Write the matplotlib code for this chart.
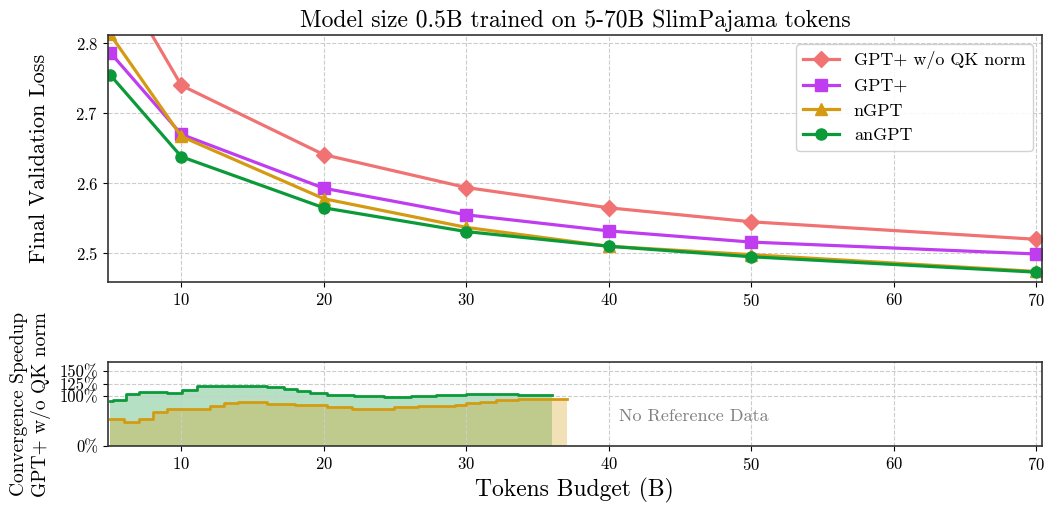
import matplotlib
matplotlib.use("Agg")
import matplotlib.pyplot as plt

plt.rcParams['font.family'] = 'serif'
plt.rcParams['font.serif'] = ['cmr10', 'DejaVu Serif']
plt.rcParams['mathtext.fontset'] = 'cm'
plt.rcParams['axes.formatter.use_mathtext'] = True
plt.rcParams['axes.unicode_minus'] = False

# final validation loss per token budget (B)
budgets = [5, 10, 20, 30, 40, 50, 70]
loss_noqk = [2.914, 2.740, 2.641, 2.594, 2.565, 2.545, 2.520]
loss_gptp = [2.787, 2.670, 2.593, 2.555, 2.532, 2.516, 2.499]
loss_ngpt = [2.813, 2.667, 2.578, 2.537, 2.510, 2.498, 2.474]
loss_angpt = [2.755, 2.638, 2.565, 2.531, 2.510, 2.495, 2.473]

# convergence speedup vs GPT+ w/o QK norm (%), step curves
sp_angpt_x = [5, 5.2, 6.1, 7, 9, 10.05, 11.1, 12, 14.1, 16, 17.2, 18.1, 19.05, 20.2,
              22.1, 24.2, 26.1, 27.9, 30, 33.6, 36]
sp_angpt = [90, 93, 105, 109, 106, 113, 120, 121, 120, 118, 114, 110, 107, 103,
            101, 99, 101, 103, 104, 102, 102]
sp_ngpt_x = [5, 6, 7, 8, 9, 10, 12, 13, 14, 16, 18, 20.2, 22, 24.9, 26.6, 29.2,
             30, 31, 32.1, 33.6, 37.1]
sp_ngpt = [55, 48, 55, 68, 74, 75, 81, 86, 88, 84, 82, 79, 75, 78, 80, 82,
           86, 89, 92, 95, 95]

c_noqk = '#f07272'
c_gptp = '#c03cf0'
c_ngpt = '#d49b12'
c_angpt = '#0a9a3a'

fig = plt.figure(figsize=(10.49, 5.08), dpi=100)
ax = fig.add_axes([0.103, 0.445, 0.890, 0.486])
ax2 = fig.add_axes([0.103, 0.122, 0.890, 0.165])

ax.plot(budgets, loss_noqk, color=c_noqk, marker='D', ms=8, lw=2.3, label='GPT+ w/o QK norm')
ax.plot(budgets, loss_gptp, color=c_gptp, marker='s', ms=8, lw=2.3, label='GPT+')
ax.plot(budgets, loss_ngpt, color=c_ngpt, marker='^', ms=8, lw=2.3, label='nGPT')
ax.plot(budgets, loss_angpt, color=c_angpt, marker='o', ms=8, lw=2.3, label='anGPT')

ax.set_xlim(4.85, 70.4)
ax.set_ylim(2.459, 2.812)
ax.set_xticks([10, 20, 30, 40, 50, 60, 70])
ax.set_yticks([2.5, 2.6, 2.7, 2.8])
ax.grid(True, ls='--', color='#cccccc', lw=0.8)
ax.set_ylabel('Final Validation Loss', fontsize=16, labelpad=19)
ax.set_title('Model size 0.5B trained on 5-70B SlimPajama tokens', fontsize=17, pad=6)
ax.tick_params(labelsize=12)
ax.legend(loc='upper right', fontsize=13, framealpha=0.9)

ax2.step(sp_angpt_x, sp_angpt, where='post', color=c_angpt, lw=2)
ax2.fill_between(sp_angpt_x, sp_angpt, step='post', color=c_angpt, alpha=0.3, lw=0)
ax2.step(sp_ngpt_x, sp_ngpt, where='post', color=c_ngpt, lw=2)
ax2.fill_between(sp_ngpt_x, sp_ngpt, step='post', color=c_ngpt, alpha=0.3, lw=0)
ax2.text(46, 60, 'No Reference Data', color='gray', fontsize=13, ha='center', va='center')

ax2.set_xlim(4.85, 70.4)
ax2.set_ylim(0, 168)
ax2.set_xticks([10, 20, 30, 40, 50, 60, 70])
ax2.set_yticks([0, 100, 125, 150])
ax2.set_yticklabels(['0%', '100%', '125%', '150%'])
ax2.grid(True, ls='--', color='#cccccc', lw=0.8)
ax2.tick_params(labelsize=12)
ax2.set_xlabel('Tokens Budget (B)', fontsize=17)
ax2.set_ylabel('Convergence Speedup\nGPT+ w/o QK norm', fontsize=14, linespacing=1.2, labelpad=6)

for a in (ax, ax2):
    for s in a.spines.values():
        s.set_color('#333333')
        s.set_linewidth(1.2)

fig.savefig('out.png', dpi=100)
